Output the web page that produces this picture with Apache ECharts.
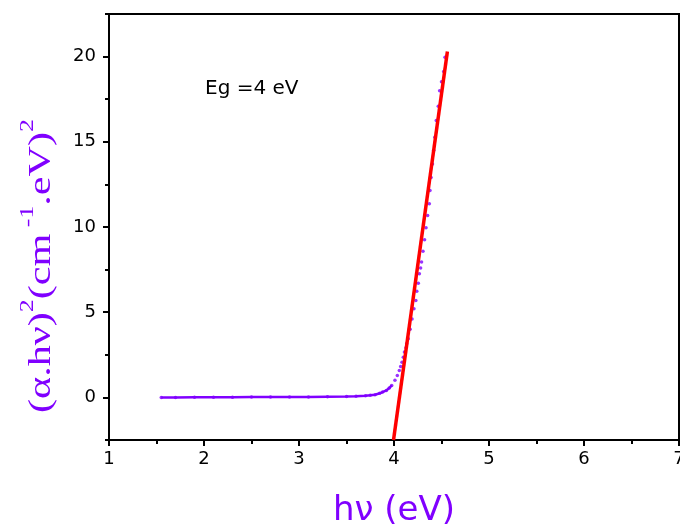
<!DOCTYPE html>
<html>
<head>
<meta charset="utf-8">
<script src="https://cdn.jsdelivr.net/npm/echarts@6/dist/echarts.min.js"></script>
<style>html,body{margin:0;padding:0;background:#fff;}#c{width:680px;height:527px;}</style>
</head>
<body>
<div id="c"></div>
<script>
// photon energy (eV)
const hv = [1.55, 1.7, 1.9, 2.1, 2.3, 2.5, 2.7, 2.9, 3.1, 3.3, 3.5, 3.6, 3.7, 3.75, 3.8, 3.85, 3.88, 3.92, 3.95, 3.976,
  4.01, 4.035, 4.056, 4.07, 4.084, 4.098, 4.11, 4.126, 4.133, 4.15, 4.17, 4.19, 4.21, 4.23, 4.24, 4.256, 4.267, 4.28,
  4.29, 4.305, 4.322, 4.337, 4.354, 4.372, 4.379, 4.39, 4.405, 4.418, 4.43, 4.445, 4.466, 4.48, 4.50, 4.523, 4.537];
// (alpha.hv)^2
const ahv2 = [0.00, 0.00, 0.01, 0.01, 0.01, 0.02, 0.02, 0.02, 0.03, 0.04, 0.05, 0.07, 0.10, 0.12, 0.16, 0.24, 0.31, 0.41, 0.55, 0.70,
  1.00, 1.29, 1.58, 1.82, 2.07, 2.36, 2.66, 2.91, 3.15, 3.44, 4.00, 4.60, 5.20, 5.69, 6.23, 6.70, 7.25, 7.60,
  7.94, 8.58, 9.25, 9.95, 10.67, 11.36, 12.14, 12.90, 13.70, 14.50, 15.27, 16.25, 17.08, 17.99, 18.53, 19.12, 19.96];
// linear fit (Tauc extrapolation)
const fitX = [3.995, 4.562];
const fitY = [-2.5, 20.3];
const xTicks = [1, 2, 3, 4, 5, 6, 7];
const yMajor = [0, 5, 10, 15, 20];
const yMinor = [-2.5, 2.5, 7.5, 12.5, 17.5, 22.5];
const egLabel = 'Eg =4 eV';
const yTitle = '{m|(α.hν)}{s|2}{m|(cm}{s| -1}{m|.eV)}{s|2}';
const xTitle = 'hν (eV)';

const purple = '#8000ff';
const pts = hv.map((x, i) => [x, ahv2[i]]);
const flatPts = pts.filter(p => p[0] < 4.0);
const fitPts = fitX.map((x, i) => [x, fitY[i]]);

const chart = echarts.init(document.getElementById('c'), null, {renderer: 'canvas'});
const sans = 'DejaVu Sans, Arial, sans-serif';
const serif = 'Liberation Serif, Times New Roman, serif';
const tickFont = {color: '#000', fontSize: 18, fontFamily: sans};
chart.setOption({
  backgroundColor: '#fff',
  animation: false,
  grid: {left: 109, top: 14, right: 1, bottom: 87, show: true, borderColor: '#000', borderWidth: 2,
         containLabel: false, outerBoundsMode: 'none'},
  xAxis: {
    type: 'value', min: xTicks[0], max: xTicks[xTicks.length - 1], interval: 1,
    axisLine: {onZero: false, lineStyle: {color: '#000', width: 2}},
    axisTick: {length: 6, lineStyle: {color: '#000', width: 2}},
    minorTick: {show: true, splitNumber: 2, length: 4, lineStyle: {color: '#000', width: 2}},
    splitLine: {show: false},
    axisLabel: Object.assign({margin: 10, showMaxLabel: true, showMinLabel: true}, tickFont),
    name: '{n|' + xTitle + '}', nameLocation: 'middle', nameGap: 54,
    nameTextStyle: {rich: {n: {fontSize: 34, color: purple, fontFamily: sans}}}
  },
  yAxis: [{
    type: 'value', min: -2.5, max: 22.5,
    axisLine: {show: true, onZero: false, lineStyle: {color: '#000', width: 2}},
    axisTick: {show: true, length: 6, customValues: yMajor, lineStyle: {color: '#000', width: 2}},
    axisLabel: Object.assign({margin: 13, customValues: yMajor}, tickFont),
    splitLine: {show: false}
  }, {
    type: 'value', min: -2.5, max: 22.5, position: 'left',
    axisLine: {show: false, onZero: false},
    axisTick: {show: true, length: 4, customValues: yMinor, lineStyle: {color: '#000', width: 2}},
    axisLabel: {show: false},
    splitLine: {show: false}
  }],
  graphic: [{
    type: 'text', left: 205, top: 79,
    style: {text: egLabel, fill: '#000', font: '20px "DejaVu Sans", Arial, sans-serif'}
  }, {
    type: 'text', x: 38, y: 266, rotation: Math.PI / 2, scaleX: 1.36, scaleY: 1,
    style: {
      text: yTitle, align: 'center', verticalAlign: 'middle',
      rich: {
        m: {fontSize: 31, fill: purple, fontFamily: serif, lineHeight: 38, verticalAlign: 'bottom'},
        s: {fontSize: 19, fill: purple, fontFamily: serif, lineHeight: 38, verticalAlign: 'top'}
      }
    }
  }],
  series: [{
    type: 'line', data: flatPts, showSymbol: false, symbol: 'none',
    lineStyle: {color: purple, width: 2.5}, z: 2
  }, {
    type: 'scatter', data: pts, symbol: 'circle', symbolSize: 3.5,
    itemStyle: {color: purple}, z: 3
  }, {
    type: 'line', data: fitPts, symbol: 'none', lineStyle: {color: '#ff0000', width: 3.5}, z: 4
  }]
});
</script>
</body>
</html>
